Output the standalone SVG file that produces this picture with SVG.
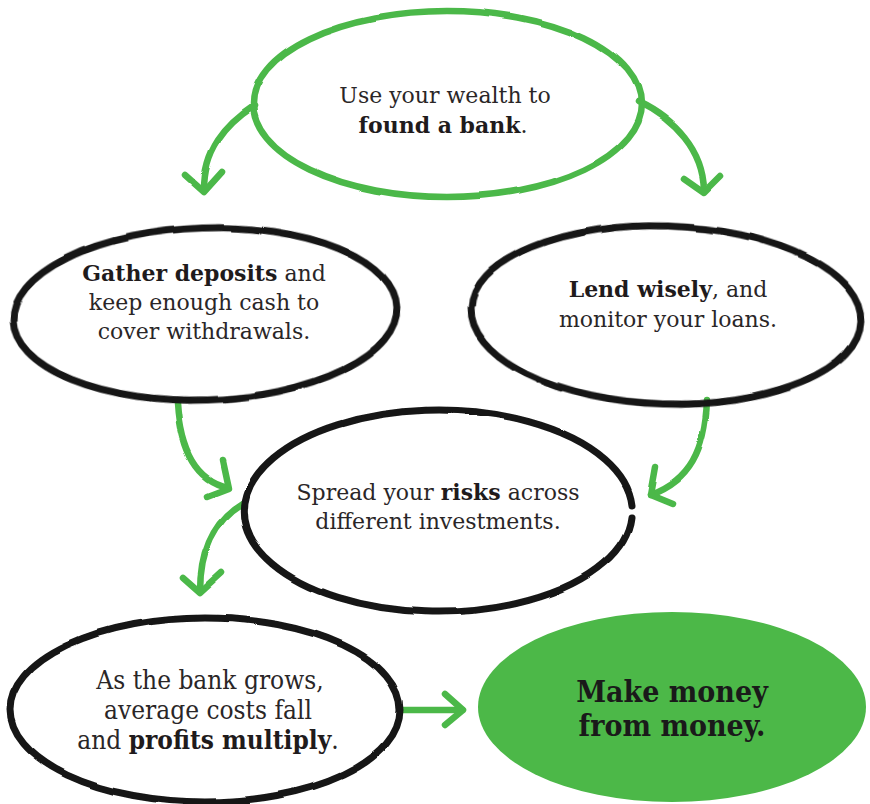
<svg xmlns="http://www.w3.org/2000/svg" width="870" height="804" viewBox="0 0 870 804">
<defs>
<filter id="rough" x="-5%" y="-5%" width="110%" height="110%">
<feTurbulence type="fractalNoise" baseFrequency="0.015" numOctaves="1" seed="5" result="n"/>
<feDisplacementMap in="SourceGraphic" in2="n" scale="4" xChannelSelector="R" yChannelSelector="G"/>
</filter>
<style>
.bk{fill:none;stroke:#151515;stroke-width:7;stroke-linecap:round}
.gr{fill:none;stroke:#4cb848;stroke-width:6.5;stroke-linecap:round;stroke-linejoin:round}
.t{font-family:"DejaVu Serif","Liberation Serif",serif;font-size:22px;fill:#2a2627;text-anchor:middle}
.c{font-family:"DejaVu Serif Condensed","DejaVu Serif",serif;font-stretch:condensed;font-size:26px;fill:#2a2627;text-anchor:middle}
.big{font-family:"DejaVu Serif Condensed","DejaVu Serif",serif;font-stretch:condensed;font-size:30px;font-weight:bold;fill:#1a1a1a;text-anchor:middle}
.b{font-weight:bold;fill:#1f1b1c}
</style>
</defs>
<rect width="870" height="804" fill="#ffffff"/>

<g id="connectors" filter="url(#rough)">
<path class="gr" d="M254,106 C225,125 204,150 204,190"/>
<path class="gr" d="M186,176 L204,192 L222,172"/>
<path class="gr" d="M638,102 C675,120 703,150 704,190"/>
<path class="gr" d="M684,178 L704,192 L720,176"/>
<path class="gr" d="M177,403 C180,450 195,480 227,487"/>
<path class="gr" d="M222,460 L228,488 L207,496"/>
<path class="gr" d="M707,400 C705,450 690,480 650,495"/>
<path class="gr" d="M655,467 L650,495 L672,504"/>
<path class="gr" d="M243,503 C215,520 200,550 200,592"/>
<path class="gr" d="M183,578 L200,593 L222,573"/>
<path class="gr" d="M403,710 L462,710"/>
<path class="gr" d="M445,694 L463,710 L445,725"/>
</g>

<g id="found-bank">
<ellipse cx="447" cy="104" rx="194" ry="93" class="gr" filter="url(#rough)"/>
<text class="t" x="445" y="103">Use your wealth to</text>
<text class="t" x="443" y="133"><tspan class="b">found a bank</tspan>.</text>
</g>

<g id="gather-deposits">
<ellipse cx="205" cy="314" rx="192" ry="86" transform="rotate(-2 205 314)" class="bk" filter="url(#rough)"/>
<text class="t" x="204" y="281"><tspan class="b">Gather deposits</tspan> and</text>
<text class="t" x="204" y="310">keep enough cash to</text>
<text class="t" x="204" y="339">cover withdrawals.</text>
</g>

<g id="lend-wisely">
<ellipse cx="666" cy="315" rx="195" ry="89" transform="rotate(2 666 315)" class="bk" filter="url(#rough)"/>
<text class="t" x="668" y="297"><tspan class="b">Lend wisely</tspan>, and</text>
<text class="t" x="668" y="327">monitor your loans.</text>
</g>

<g id="spread-risks">
<path class="bk" filter="url(#rough)" d="M632,517 A194,101 0 1 1 632,505"/>
<text class="t" x="438" y="500">Spread your <tspan class="b">risks</tspan> across</text>
<text class="t" x="438" y="529">different investments.</text>
</g>

<g id="bank-grows">
<ellipse cx="205" cy="710" rx="195" ry="92" class="bk" filter="url(#rough)"/>
<text class="c" x="210" y="689">As the bank grows,</text>
<text class="c" x="208" y="719">average costs fall</text>
<text class="c" x="208" y="749">and <tspan class="b">profits multiply</tspan>.</text>
</g>

<g id="make-money">
<ellipse cx="672" cy="707" rx="194" ry="95" fill="#4cb848"/>
<text class="big" x="672" y="702">Make money</text>
<text class="big" x="672" y="736">from money.</text>
</g>
</svg>
